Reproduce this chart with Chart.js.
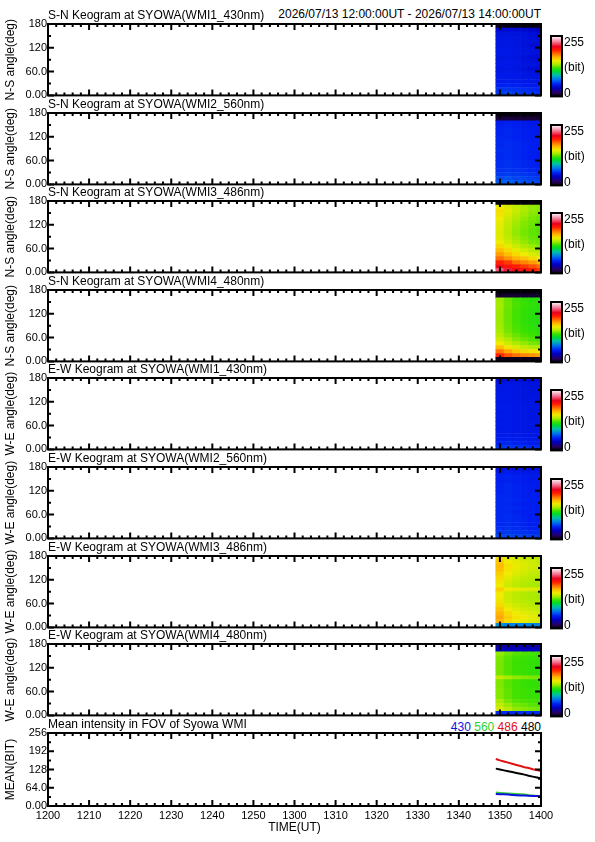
<!DOCTYPE html>
<html>
<head>
<meta charset="utf-8">
<script src="https://cdn.jsdelivr.net/npm/chart.js@4.4.1/dist/chart.umd.min.js"></script>
<style>
  body { margin: 0; background: #fff; }
  #page { position: relative; width: 595px; height: 842px; overflow: hidden; font-family: "Liberation Sans", Arial, sans-serif; }
  #page canvas { position: absolute; left: 0; }
  .note { position: absolute; font-size: 12px; line-height: 14px; white-space: nowrap; }
</style>
</head>
<body>
<div id="page">
  <div class="note" style="right:54px; top:7px;">2026/07/13 12:00:00UT - 2026/07/13 14:00:00UT</div>
  <div class="note" id="wl" style="right:54px; top:720px;"></div>
</div>
<script>
// minutes after 12:00 UT
const timeTicks = [0, 10, 20, 30, 40, 50, 60, 70, 80, 90, 100, 110, 120];
const timeTickLabels = ['1200', '1210', '1220', '1230', '1240', '1250', '1300', '1310', '1320', '1330', '1340', '1350', '1400'];
const angleTicks = [0, 60, 120, 180];
const angleTickLabels = ['0.00', '60.0', '120', '180'];
const meanTicks = [0, 64, 128, 192, 256];
const meanTickLabels = ['0.00', '64.0', '128', '192', '256'];

// keogram cells: column centres (min), row bottoms (deg)
const keoColumns = [110, 112, 114, 116, 118, 120];
const keoRows = [0, 10, 20, 30, 40, 50, 60, 70, 80, 90, 100, 110, 120, 130, 140, 150, 160, 170];
const keoRowHeight = 10;

// counts (0-255), rows listed bottom -> top
const sn430 = [
  [58, 60, 58, 57, 56, 55], [56, 57, 56, 55, 54, 54], [52, 53, 52, 51, 50, 50],
  [50, 51, 50, 49, 48, 48], [50, 50, 49, 48, 47, 47], [49, 50, 49, 48, 47, 46],
  [47, 48, 47, 45, 43, 42], [49, 49, 48, 47, 46, 45], [48, 49, 48, 46, 45, 44],
  [47, 48, 47, 45, 43, 42], [49, 49, 48, 47, 46, 45], [49, 49, 48, 47, 46, 45],
  [47, 48, 47, 45, 43, 42], [48, 48, 47, 46, 45, 44], [47, 48, 47, 46, 44, 43],
  [46, 47, 46, 45, 43, 42], [40, 42, 41, 40, 38, 36], [4, 4, 3, 3, 3, 3]
];
const sn560 = [
  [66, 67, 65, 63, 62, 61], [62, 63, 61, 60, 59, 58], [58, 59, 58, 57, 56, 55],
  [56, 57, 56, 55, 54, 53], [55, 56, 55, 54, 53, 52], [55, 56, 55, 54, 53, 52],
  [54, 55, 54, 53, 52, 51], [54, 55, 54, 53, 52, 51], [55, 55, 54, 53, 52, 52],
  [54, 55, 54, 53, 52, 51], [54, 55, 54, 53, 52, 51], [54, 54, 53, 52, 51, 51],
  [53, 54, 53, 52, 51, 50], [53, 54, 53, 52, 51, 50], [52, 53, 52, 51, 50, 50],
  [50, 52, 51, 50, 49, 48], [10, 10, 9, 9, 9, 9], [3, 3, 3, 3, 3, 3]
];
const sn486 = [
  [225, 215, 205, 200, 195, 190], [205, 200, 195, 190, 185, 180], [195, 190, 180, 175, 170, 165],
  [180, 172, 165, 160, 155, 150], [170, 162, 155, 150, 145, 142], [162, 155, 148, 143, 138, 135],
  [155, 148, 142, 137, 133, 130], [150, 143, 137, 132, 128, 126], [147, 140, 134, 130, 126, 124],
  [146, 138, 132, 128, 125, 123], [146, 138, 132, 128, 125, 122], [147, 139, 133, 129, 126, 123],
  [148, 140, 134, 130, 127, 124], [150, 142, 136, 132, 128, 126], [152, 145, 139, 134, 130, 128],
  [153, 147, 141, 136, 132, 130], [150, 145, 140, 135, 132, 130], [2, 2, 2, 2, 2, 2]
];
const sn480 = [
  [5, 5, 5, 5, 5, 5], [195, 185, 180, 175, 172, 170], [178, 168, 160, 155, 152, 150],
  [162, 152, 145, 140, 137, 135], [150, 142, 136, 132, 128, 126], [143, 136, 130, 126, 123, 121],
  [138, 131, 126, 122, 120, 118], [135, 128, 123, 120, 118, 116], [134, 127, 122, 119, 117, 115],
  [133, 126, 121, 118, 116, 115], [133, 126, 121, 118, 116, 115], [133, 126, 121, 118, 116, 115],
  [133, 126, 121, 118, 116, 115], [134, 127, 122, 119, 117, 116], [134, 127, 122, 119, 117, 116],
  [133, 126, 121, 118, 116, 115], [8, 8, 8, 8, 8, 8], [2, 2, 2, 2, 2, 2]
];
const ew430 = [
  [57, 58, 57, 56, 55, 55], [53, 54, 53, 52, 51, 51], [51, 52, 51, 50, 49, 49],
  [50, 51, 50, 49, 48, 48], [50, 50, 49, 48, 48, 47], [49, 50, 49, 48, 47, 47],
  [50, 50, 49, 48, 48, 47], [49, 50, 49, 48, 47, 47], [50, 50, 49, 48, 48, 47],
  [49, 50, 49, 48, 47, 47], [50, 50, 49, 48, 48, 47], [49, 50, 49, 48, 47, 47],
  [49, 49, 48, 47, 47, 46], [49, 49, 48, 47, 47, 46], [48, 49, 48, 47, 46, 46],
  [48, 49, 48, 47, 46, 46], [47, 48, 47, 46, 45, 45], [44, 45, 44, 43, 42, 42]
];
const ew560 = [
  [61, 62, 61, 60, 59, 58], [57, 58, 57, 56, 55, 55], [55, 56, 55, 54, 53, 53],
  [54, 55, 54, 53, 52, 52], [54, 55, 54, 53, 52, 52], [54, 55, 54, 53, 52, 52],
  [54, 54, 53, 52, 52, 51], [54, 55, 54, 53, 52, 52], [54, 54, 53, 52, 52, 51],
  [54, 55, 54, 53, 52, 52], [54, 54, 53, 52, 52, 51], [53, 54, 53, 52, 51, 51],
  [53, 54, 53, 52, 51, 51], [53, 54, 53, 52, 51, 51], [52, 53, 52, 51, 50, 50],
  [52, 53, 52, 51, 50, 50], [50, 51, 50, 49, 48, 48], [46, 47, 46, 45, 44, 44]
];
const ew486 = [
  [80, 75, 75, 75, 75, 75], [165, 155, 150, 148, 145, 143], [168, 158, 152, 150, 147, 145],
  [165, 155, 150, 147, 145, 143], [160, 150, 146, 143, 141, 140], [155, 146, 142, 140, 138, 137],
  [152, 143, 140, 138, 136, 135], [150, 142, 139, 137, 135, 134], [150, 142, 139, 137, 135, 134],
  [158, 150, 148, 147, 146, 145], [150, 142, 139, 137, 135, 134], [152, 144, 140, 138, 136, 135],
  [155, 147, 143, 140, 138, 137], [158, 150, 146, 143, 140, 139], [162, 152, 148, 145, 142, 141],
  [163, 153, 149, 146, 143, 142], [160, 150, 147, 144, 142, 140], [155, 146, 143, 140, 138, 137]
];
const ew480 = [
  [55, 55, 55, 55, 55, 55], [145, 138, 132, 130, 128, 127], [140, 133, 128, 126, 124, 123],
  [135, 128, 124, 122, 121, 120], [130, 125, 121, 120, 119, 118], [130, 125, 121, 120, 119, 118],
  [130, 125, 121, 120, 119, 118], [129, 124, 121, 119, 118, 118], [129, 124, 121, 119, 118, 118],
  [140, 135, 132, 130, 129, 128], [128, 123, 120, 119, 118, 117], [128, 123, 120, 119, 118, 117],
  [128, 123, 120, 119, 118, 117], [128, 123, 120, 119, 118, 117], [129, 124, 121, 120, 119, 118],
  [132, 127, 124, 122, 121, 120], [35, 35, 35, 35, 35, 35], [30, 30, 30, 30, 30, 30]
];

// mean intensity in FOV
const meanTimes = [109, 110, 111, 112, 113, 114, 115, 116, 117, 118, 119, 120];
const mean430 = [42, 41, 41, 40, 39, 38, 37, 37, 36, 35, 35, 34];
const mean560 = [47, 46, 45, 44, 43, 42, 41, 40, 38, 37, 35, 34];
const mean486 = [165, 160, 156, 152, 148, 144, 140, 136, 133, 129, 126, 123];
const mean480 = [131, 128, 125, 122, 119, 116, 113, 110, 106, 103, 100, 97];
const meanNames = ['430', '560', '486', '480'];
const meanColors = ['#1010e0', '#30d030', '#e01010', '#000000'];

// rainbow + white colour table
const colorStops = [
  [0, 0, 0, 0], [16, 40, 0, 100], [36, 0, 0, 190], [52, 0, 30, 240], [70, 0, 110, 240],
  [90, 0, 190, 170], [108, 0, 220, 40], [120, 60, 225, 0], [135, 170, 235, 0], [150, 240, 235, 0],
  [165, 255, 180, 0], [180, 255, 110, 0], [195, 255, 30, 0], [210, 235, 0, 30], [230, 240, 120, 150],
  [255, 255, 255, 255]
];

function rampColor(v) {
  for (let i = 1; i < colorStops.length; i++) {
    const a = colorStops[i - 1], b = colorStops[i];
    if (v <= b[0]) {
      const f = (v - a[0]) / (b[0] - a[0]);
      const c = [1, 2, 3].map(k => Math.round(a[k] + (b[k] - a[k]) * f));
      return `rgb(${c[0]},${c[1]},${c[2]})`;
    }
  }
  return '#fff';
}

Chart.defaults.font.family = '"Liberation Sans", Arial, sans-serif';
Chart.defaults.color = '#000';
Chart.defaults.animation = false;

// box, inward ticks and colour bar
const frame = {
  id: 'frame',
  afterDatasetsDraw(chart, args, opts) {
    const {ctx, chartArea: a, scales: {x, y}} = chart;
    ctx.save();
    ctx.strokeStyle = '#000';
    ctx.lineWidth = 2;
    ctx.beginPath();
    x.ticks.forEach(t => {
      const px = x.getPixelForValue(t.value);
      const len = t.value % 10 === 0 ? 6 : 3;
      ctx.moveTo(px, a.bottom); ctx.lineTo(px, a.bottom - len);
      ctx.moveTo(px, a.top); ctx.lineTo(px, a.top + len);
    });
    y.ticks.forEach(t => {
      const py = y.getPixelForValue(t.value);
      const len = t.value % opts.yMajor === 0 ? 6 : 3;
      ctx.moveTo(a.left, py); ctx.lineTo(a.left + len, py);
      ctx.moveTo(a.right, py); ctx.lineTo(a.right - len, py);
    });
    ctx.stroke();
    ctx.strokeRect(a.left, a.top, a.right - a.left, a.bottom - a.top);

    if (opts.colorbar) {
      const bx = a.right + 10, bw = 11, top = a.top + 12, bottom = a.bottom + 1;
      const g = ctx.createLinearGradient(0, bottom, 0, top);
      colorStops.forEach(s => g.addColorStop(s[0] / 255, `rgb(${s[1]},${s[2]},${s[3]})`));
      ctx.fillStyle = g;
      ctx.fillRect(bx, top, bw, bottom - top);
      ctx.lineWidth = 2;
      ctx.strokeRect(bx, top, bw, bottom - top);
      ctx.fillStyle = '#000';
      ctx.font = '12px "Liberation Sans", Arial, sans-serif';
      ctx.textBaseline = 'middle';
      ctx.fillText('255', bx + bw + 2, a.top + 19);
      ctx.fillText('(bit)', bx + bw + 2, a.top + 44);
      ctx.fillText('0', bx + bw + 2, a.top + 70);
    }
    ctx.restore();
  }
};

function labelFrom(ticks, labels) {
  return v => {
    const i = ticks.indexOf(v);
    return i < 0 ? '' : labels[i];
  };
}

function keoDatasets(grid) {
  return keoRows.map((lo, r) => ({
    data: keoColumns.map(c => ({x: c, y: [lo, lo + keoRowHeight]})),
    backgroundColor: grid[r].map(rampColor),
    borderWidth: 0,
    grouped: false,
    barPercentage: 1,
    categoryPercentage: 1,
    clip: 0
  }));
}

const panels = [
  {title: 'S-N Keogram at SYOWA(WMI1_430nm)', axis: 'N-S angle(deg)', grid: sn430, top: 24},
  {title: 'S-N Keogram at SYOWA(WMI2_560nm)', axis: 'N-S angle(deg)', grid: sn560, top: 113},
  {title: 'S-N Keogram at SYOWA(WMI3_486nm)', axis: 'N-S angle(deg)', grid: sn486, top: 201},
  {title: 'S-N Keogram at SYOWA(WMI4_480nm)', axis: 'N-S angle(deg)', grid: sn480, top: 290},
  {title: 'E-W Keogram at SYOWA(WMI1_430nm)', axis: 'W-E angle(deg)', grid: ew430, top: 378},
  {title: 'E-W Keogram at SYOWA(WMI2_560nm)', axis: 'W-E angle(deg)', grid: ew560, top: 467},
  {title: 'E-W Keogram at SYOWA(WMI3_486nm)', axis: 'W-E angle(deg)', grid: ew486, top: 556},
  {title: 'E-W Keogram at SYOWA(WMI4_480nm)', axis: 'W-E angle(deg)', grid: ew480, top: 644}
];

const page = document.getElementById('page');
function addCanvas(top, height) {
  const c = document.createElement('canvas');
  c.width = 595;
  c.height = height;
  c.style.top = top + 'px';
  page.appendChild(c);
  return c;
}

const titleOpts = text => ({
  display: true, text: text, align: 'start', fullSize: false,
  font: {size: 12, weight: 'normal'}, padding: {top: 7, bottom: 1.6}
});

panels.forEach(p => {
  const cv = addCanvas(p.top - 23, 102);
  new Chart(cv, {
    type: 'bar',
    data: {datasets: keoDatasets(p.grid)},
    plugins: [frame],
    options: {
      responsive: false,
      devicePixelRatio: 1,
      layout: {padding: {left: 0, right: 54, top: 0, bottom: 7}},
      plugins: {
        legend: {display: false},
        tooltip: {enabled: false},
        title: titleOpts(p.title),
        frame: {yMajor: 60, colorbar: true}
      },
      scales: {
        x: {
          type: 'linear', min: 0, max: 120, offset: false,
          grid: {display: false, drawTicks: false, offset: false},
          border: {display: false},
          ticks: {display: false, stepSize: 2, autoSkip: false},
          afterFit: s => { s.height = 0; }
        },
        y: {
          min: 0, max: 180,
          grid: {display: false, drawTicks: false},
          border: {display: false},
          ticks: {stepSize: 30, autoSkip: false, padding: 1, font: {size: 11},
                  callback: labelFrom(angleTicks, angleTickLabels)},
          title: {display: true, text: p.axis, font: {size: 12}, padding: {top: 3, bottom: 0}},
          afterFit: s => { s.width = 48; }
        }
      }
    }
  });
});

// mean intensity panel
const meanSeries = [mean430, mean560, mean486, mean480];
const meanCanvas = addCanvas(710, 130);
new Chart(meanCanvas, {
  type: 'line',
  data: {
    datasets: meanSeries.map((s, i) => ({
      label: meanNames[i],
      data: meanTimes.map((t, j) => ({x: t, y: s[j]})),
      borderColor: meanColors[i],
      borderWidth: 2,
      pointRadius: 0,
      fill: false
    }))
  },
  plugins: [frame],
  options: {
    responsive: false,
    devicePixelRatio: 1,
    layout: {padding: {left: 0, right: 54, top: 0, bottom: 0}},
    plugins: {
      legend: {display: false},
      tooltip: {enabled: false},
      title: titleOpts('Mean intensity in FOV of Syowa WMI'),
      frame: {yMajor: 64, colorbar: false}
    },
    scales: {
      x: {
        type: 'linear', min: 0, max: 120,
        grid: {display: false, drawTicks: false},
        border: {display: false},
        ticks: {stepSize: 2, autoSkip: false, maxRotation: 0, minRotation: 0, padding: 3,
                font: {size: 11}, callback: labelFrom(timeTicks, timeTickLabels)},
        title: {display: true, text: 'TIME(UT)', font: {size: 12}, padding: {top: 0, bottom: 5}},
        afterFit: s => { s.height = 34; }
      },
      y: {
        min: 0, max: 256,
        grid: {display: false, drawTicks: false},
        border: {display: false},
        ticks: {stepSize: 32, autoSkip: false, padding: 1, font: {size: 11},
                callback: labelFrom(meanTicks, meanTickLabels)},
        title: {display: true, text: 'MEAN(BIT)', font: {size: 12}, padding: {top: 3, bottom: 0}},
        afterFit: s => { s.width = 48; }
      }
    }
  }
});

document.getElementById('wl').innerHTML = meanNames
  .map((n, i) => `<span style="color:${meanColors[i]}">${n}</span>`).join(' ');
</script>
</body>
</html>
